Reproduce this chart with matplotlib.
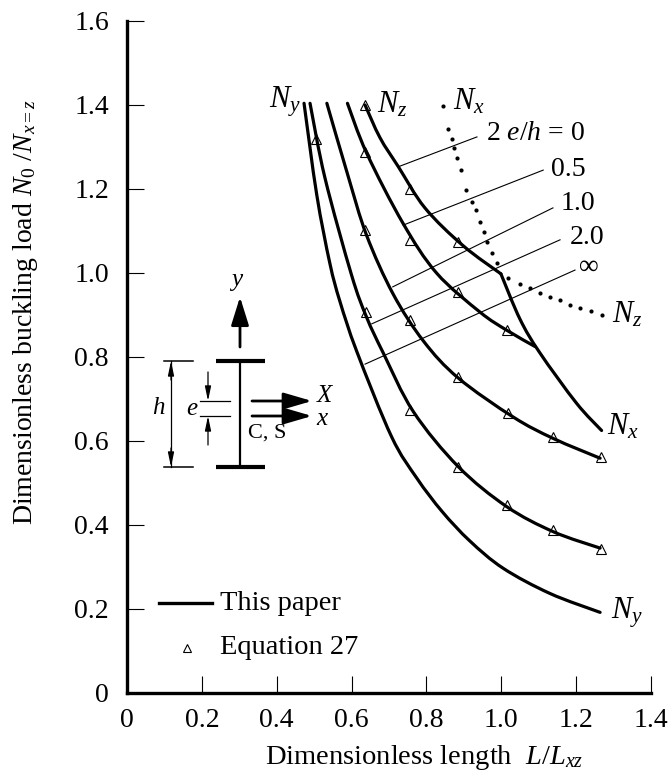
import matplotlib
matplotlib.use("Agg")
import matplotlib.pyplot as plt
from matplotlib.path import Path
from matplotlib.patches import PathPatch

plt.rcParams["font.family"] = ["Liberation Serif", "DejaVu Serif"]
plt.rcParams["mathtext.fontset"] = "custom"
plt.rcParams["mathtext.rm"] = "Liberation Serif"
plt.rcParams["mathtext.it"] = "Liberation Serif:italic"

W, H = 669, 781

# solid curves, 2e/h = 0 has a corner so it comes in two parts
x_0a = [0.636, 0.676, 0.725, 0.796, 0.898, 0.999]
y_0a = [1.40, 1.322, 1.253, 1.155, 1.065, 0.998]
x_0b = [0.999, 1.05, 1.103, 1.201, 1.268]
y_0b = [0.998, 0.89, 0.81, 0.69, 0.625]
x_05 = [0.589, 0.640, 0.737, 0.827, 0.943, 1.014, 1.090]
y_05 = [1.404, 1.286, 1.119, 1.0, 0.907, 0.864, 0.825]
x_1 = [0.534, 0.590, 0.640, 0.711, 0.792, 0.885, 1.032, 1.139, 1.264]
y_1 = [1.404, 1.233, 1.09, 0.95, 0.838, 0.75, 0.657, 0.606, 0.559]
x_2 = [0.489, 0.529, 0.600, 0.640, 0.685, 0.765, 0.885, 1.014, 1.139, 1.264]
y_2 = [1.404, 1.226, 0.995, 0.895, 0.809, 0.67, 0.539, 0.444, 0.384, 0.345]
x_inf = [0.473, 0.507, 0.542, 0.569, 0.614, 0.707, 0.774, 0.842, 0.916, 1.005, 1.130, 1.264]
y_inf = [1.404, 1.186, 1.023, 0.932, 0.813, 0.61, 0.512, 0.432, 0.362, 0.297, 0.237, 0.192]

# dotted elastic buckling curve, one value per printed dot
x_dot = [0.845, 0.858, 0.867, 0.874, 0.881, 0.892, 0.907, 0.921, 0.932, 0.943, 0.954, 0.963,
         0.974, 0.988, 1.019, 1.050, 1.077, 1.103, 1.130, 1.157, 1.184, 1.210, 1.241, 1.268]
y_dot = [1.398, 1.344, 1.32, 1.297, 1.273, 1.245, 1.198, 1.17, 1.15, 1.122, 1.097, 1.075,
         1.047, 1.023, 0.987, 0.975, 0.964, 0.952, 0.944, 0.936, 0.925, 0.916, 0.91, 0.90]

# Equation 27 triangles
x_tri = [0.636, 0.756, 0.885,
         0.636, 0.756, 0.885, 1.015,
         0.636, 0.756, 0.885, 1.018, 1.139, 1.266,
         0.505, 0.638, 0.756, 0.884, 1.014, 1.139, 1.266]
y_tri = [1.40, 1.20, 1.074,
         1.288, 1.078, 0.955, 0.864,
         1.102, 0.888, 0.752, 0.667, 0.61, 0.562,
         1.32, 0.908, 0.674, 0.539, 0.448, 0.388, 0.343]

# leader lines to the 2e/h labels
lead_labels = [r"2 $e/h$ = 0", "0.5", "1.0", "2.0", "∞"]
lead_x0 = [0.725, 0.738, 0.710, 0.654, 0.636]
lead_y0 = [1.253, 1.114, 0.967, 0.879, 0.783]
lead_x1 = [0.935, 1.112, 1.138, 1.157, 1.197]
lead_y1 = [1.324, 1.245, 1.155, 1.079, 1.007]
lead_px = [535, 568, 578, 587, 589]
lead_py = [133, 169, 203, 237, 267]

xticks = [0, 0.2, 0.4, 0.6, 0.8, 1.0, 1.2, 1.4]
xticklabels = ["0", "0.2", "0.4", "0.6", "0.8", "1.0", "1.2", "1.4"]
yticks = [0, 0.2, 0.4, 0.6, 0.8, 1.0, 1.2, 1.4, 1.6]
yticklabels = ["0", "0.2", "0.4", "0.6", "0.8", "1.0", "1.2", "1.4", "1.6"]


def smooth_curve(ax, xs, ys):
    # bezier through the read values so the line has no kinks at them
    verts = [(xs[0], ys[0])]
    codes = [Path.MOVETO]
    n = len(xs)
    for i in range(n - 1):
        x_prev, y_prev = (xs[i - 1], ys[i - 1]) if i > 0 else (xs[i], ys[i])
        x_next, y_next = (xs[i + 2], ys[i + 2]) if i + 2 < n else (xs[i + 1], ys[i + 1])
        verts.append((xs[i] + (xs[i + 1] - x_prev) / 6, ys[i] + (ys[i + 1] - y_prev) / 6))
        verts.append((xs[i + 1] - (x_next - xs[i]) / 6, ys[i + 1] - (y_next - ys[i]) / 6))
        verts.append((xs[i + 1], ys[i + 1]))
        codes += [Path.CURVE4, Path.CURVE4, Path.CURVE4]
    ax.add_patch(PathPatch(Path(verts, codes), fill=False, edgecolor="black", lw=2.3,
                           capstyle="round", joinstyle="round"))


fig = plt.figure(figsize=(W / 100, H / 100), dpi=100)
ax = fig.add_axes([127 / W, (H - 693) / H, 524 / W, 672 / H])

for xs, ys in [(x_0a, y_0a), (x_0b, y_0b), (x_05, y_05), (x_1, y_1), (x_2, y_2), (x_inf, y_inf)]:
    smooth_curve(ax, xs, ys)
ax.plot(x_dot, y_dot, linestyle="none", marker="o", ms=3, color="black", mew=0)
ax.plot(x_tri, y_tri, linestyle="none", marker="^", ms=7.5, mfc="none", mec="black", mew=0.8)

for x0, y0, x1, y1 in zip(lead_x0, lead_y0, lead_x1, lead_y1):
    ax.plot([x0, x1], [y0, y1], color="black", lw=0.8)

ax.set_xlim(0, 1.4)
ax.set_ylim(0, 1.6)
ax.set_xticks(xticks)
ax.set_xticklabels(xticklabels)
ax.set_yticks(yticks)
ax.set_yticklabels(yticklabels)
ax.tick_params(direction="in", length=12.5, width=0.8, labelsize=20, pad=13)
ax.tick_params(axis="x", pad=11)
ax.spines["top"].set_visible(False)
ax.spines["right"].set_visible(False)
ax.spines["left"].set_linewidth(2.4)
ax.spines["bottom"].set_linewidth(2.4)
ax.patch.set_alpha(0)

# overlay in picture pixels for the labels, legend and the section sketch
ov = fig.add_axes([0, 0, 1, 1])
ov.set_xlim(0, W)
ov.set_ylim(H, 0)
ov.axis("off")


def label(px, py, s, size=20, **kw):
    ov.text(px, py, s, fontsize=size, ha=kw.pop("ha", "center"), va="center", **kw)


def arrow(x0, y0, x1, y1, head=(15, 24), lw=2.0):
    ov.annotate("", xy=(x1, y1), xytext=(x0, y0),
                arrowprops=dict(arrowstyle=f"-|>,head_width={head[0] * 0.036},head_length={head[1] * 0.072}",
                                color="black", lw=lw, shrinkA=0, shrinkB=0))


for px, py, s in zip(lead_px, lead_py, lead_labels):
    label(px, py, s)

label(285, 102, r"$N_y$", 22)
label(392, 105, r"$N_z$", 22)
label(469, 102, r"$N_x$", 22)
label(627, 315, r"$N_z$", 22)
label(623, 427, r"$N_x$", 22)
label(627, 613, r"$N_y$", 22)

# legend
ov.plot([159, 212], [603, 603], color="black", lw=2.4)
ov.plot([187], [648], marker="^", ms=6, mfc="none", mec="black", mew=0.8)
label(220, 603, "This paper", 20.5, ha="left")
label(220, 647, "Equation 27", 20.5, ha="left")

# axis titles
label(424, 757, r"Dimensionless length  $L/L_{xz}$", 20.5)
label(26, 312, r"Dimensionless buckling load $N_0$ /$N_{x=z}$", 20, rotation=90)

# section sketch
ov.plot([216, 265], [361, 361], color="black", lw=3, solid_capstyle="butt")
ov.plot([216, 265], [467, 467], color="black", lw=3, solid_capstyle="butt")
ov.plot([240, 240], [361, 467], color="black", lw=1.6)
arrow(240, 347, 240, 297)
arrow(252, 401, 312, 401, head=(14, 24))
arrow(252, 416, 312, 416, head=(14, 24))
ov.plot([164, 193], [361, 361], color="black", lw=1.1)
ov.plot([164, 193], [467, 467], color="black", lw=1.1)
ov.plot([200, 230], [401, 401], color="black", lw=0.9)
ov.plot([200, 230], [416, 416], color="black", lw=0.9)
ov.plot([171, 171], [361, 467], color="black", lw=0.9)
arrow(171, 380, 171, 361, head=(5, 12), lw=0.9)
arrow(171, 448, 171, 467, head=(5, 12), lw=0.9)
arrow(208, 372, 208, 401, head=(5, 12), lw=0.9)
arrow(208, 445, 208, 416, head=(5, 12), lw=0.9)
label(237, 282, r"$y$", 18)
label(325, 396, r"$X$", 18)
label(323, 419, r"$x$", 18)
label(267, 433, "C, S", 16)
label(159, 408, r"$h$", 18)
label(192, 409, r"$e$", 18)

fig.savefig("out.png", dpi=100)
